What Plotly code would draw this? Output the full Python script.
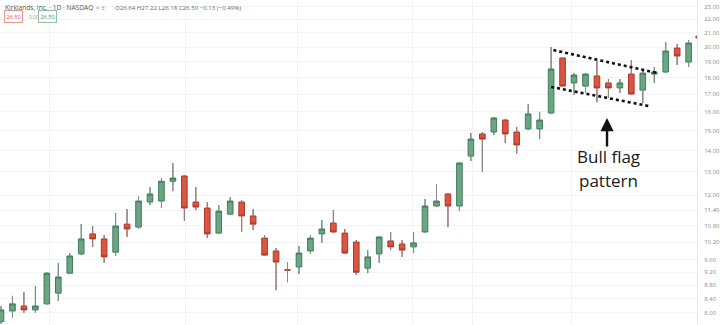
import plotly.graph_objects as go
import math

# ---- data ----
opens  = [7.76, 8.05, 8.19, 8.08, 8.25, 8.56, 9.17, 9.80, 10.50, 10.32,
          9.86, 10.86, 10.75, 11.72, 11.76, 12.59, 12.82, 11.72, 11.48, 10.53,
          11.24, 11.72, 11.17, 10.35, 9.90, 9.28, 9.37, 9.90, 10.50, 10.90,
          10.53, 10.21, 9.33, 9.80, 10.25, 10.14, 10.04, 10.57, 11.56, 12.05,
          11.56, 13.73, 14.82, 14.92, 15.55, 14.92, 15.08, 15.08, 15.93, 19.26,
          17.67, 17.48, 18.10, 17.67, 17.37, 18.22, 17.24, 18.22, 18.35, 19.93,
          18.99]
highs  = [8.19, 8.48, 8.59, 8.77, 9.20, 9.50, 9.83, 10.86, 10.79, 10.46,
          11.28, 11.44, 11.96, 12.34, 12.73, 13.41, 12.86, 12.34, 11.72, 11.60,
          11.92, 11.80, 11.44, 10.46, 10.00, 9.53, 10.07, 10.46, 11.01, 11.40,
          10.68, 10.28, 9.93, 10.42, 10.57, 10.28, 10.57, 11.84, 12.47, 12.09,
          13.43, 14.87, 14.92, 15.71, 15.61, 15.18, 16.43, 15.99, 20.00, 19.28,
          18.28, 18.28, 19.06, 17.91, 17.91, 19.12, 18.54, 18.67, 20.35, 20.21,
          20.49]
lows   = [7.70, 7.86, 8.00, 8.00, 8.23, 8.33, 9.14, 9.76, 10.04, 9.50,
          9.73, 10.39, 10.68, 11.60, 11.48, 12.17, 10.98, 11.40, 10.35, 10.51,
          11.22, 10.57, 10.64, 9.74, 8.65, 8.89, 9.14, 9.80, 10.18, 10.53,
          9.80, 9.11, 9.17, 9.50, 9.93, 9.70, 9.83, 10.55, 11.52, 10.75,
          11.36, 13.50, 13.00, 14.76, 14.36, 13.85, 15.02, 14.56, 15.88, 17.46,
          16.95, 17.07, 16.54, 16.78, 17.07, 16.95, 16.49, 17.67, 18.28, 18.80,
          18.67]
closes = [8.08, 8.25, 8.08, 8.19, 9.17, 9.05, 9.73, 10.32, 10.32, 9.70,
          10.79, 10.68, 11.76, 12.05, 12.59, 12.73, 11.48, 11.52, 10.50, 11.36,
          11.76, 11.17, 10.86, 9.76, 9.53, 9.27, 9.83, 10.35, 10.68, 10.57,
          9.83, 9.20, 9.70, 10.39, 10.04, 9.93, 10.18, 11.56, 11.76, 11.56,
          13.41, 14.56, 14.56, 15.66, 14.82, 14.27, 15.88, 15.55, 18.54, 17.48,
          18.16, 18.22, 17.37, 17.37, 17.67, 17.01, 18.28, 18.35, 19.73, 19.39,
          20.28]
bars = list(range(len(opens)))

tick_vals = [23, 22, 21, 20, 19, 18, 17, 16, 15, 14, 13, 12,
             11.4, 10.8, 10.2, 9.6, 9.2, 8.8, 8.4, 8.0]
tick_text = ["%.2f" % v for v in tick_vals]

flag_upper_x = [48.2, 57.3]
flag_upper_y = [19.79, 18.28]
flag_lower_x = [48.0, 56.5]
flag_lower_y = [17.43, 16.32]

arrow_x = 52.88
arrow_head, arrow_tail = 15.66, 14.12
label_x = 53.05
label_lines = ["Bull flag", "pattern"]
label_prices = [13.69, 12.64]

last_price = 20.70
vgrid = [4.2, 16.1, 25.9, 35.9, 41.1, 49.8]

UP_FILL, UP_LINE = "#6ba583", "#3f7d5c"
DN_FILL, DN_LINE = "#dd5542", "#a8392b"
WICK = "#8c8c8c"

fig = go.Figure()
fig.add_trace(go.Candlestick(
    x=bars, open=opens, high=highs, low=lows, close=closes,
    increasing=dict(fillcolor=UP_FILL, line=dict(color=UP_LINE, width=1)),
    decreasing=dict(fillcolor=DN_FILL, line=dict(color=DN_LINE, width=1)),
    whiskerwidth=0, hoverinfo="skip", showlegend=False))

# gray wicks drawn over the candle wicks (outside the body)
wx, wy = [], []
for i in bars:
    top = max(opens[i], closes[i]); bot = min(opens[i], closes[i])
    wx += [i, i, None, i, i, None]
    wy += [highs[i], top, None, bot, lows[i], None]
fig.add_trace(go.Scatter(x=wx, y=wy, mode="lines", line=dict(color=WICK, width=1),
                         hoverinfo="skip", showlegend=False))

for xs, ys in [(flag_upper_x, flag_upper_y), (flag_lower_x, flag_lower_y)]:
    fig.add_trace(go.Scatter(x=xs, y=ys, mode="lines",
                             line=dict(color="#111111", width=2.6, dash="3px,3px"),
                             hoverinfo="skip", showlegend=False))

fig.add_trace(go.Scatter(x=[len(bars) - 0.3], y=[last_price], mode="markers",
                         marker=dict(color="#c0392b", size=3), cliponaxis=False,
                         hoverinfo="skip", showlegend=False))

W, H = 720, 325
PW = 697
fig.update_layout(
    width=W, height=H, margin=dict(l=0, r=W - PW, t=0, b=0),
    paper_bgcolor="white", plot_bgcolor="white",
    font=dict(family="Open Sans, sans-serif"),
    xaxis=dict(range=[-0.087, 60.73], rangeslider=dict(visible=False),
               tickvals=vgrid, showticklabels=False, showgrid=True,
               gridcolor="#f2f2f2", gridwidth=1, zeroline=False, showline=False),
    yaxis=dict(type="log", side="right",
               range=[math.log10(7.67), math.log10(23.52)],
               tickvals=tick_vals, ticktext=tick_text,
               tickfont=dict(size=6, color="#8a8a8a"),
               ticks="outside", ticklen=5, tickcolor="white",
               showgrid=True, gridcolor="#f3f3f3", gridwidth=1,
               showline=True, linecolor="#e8e8e8", linewidth=1,
               zeroline=False),
    hovermode=False,
)

def px(xp):
    return xp / PW
def py(yp):
    return 1 - yp / H

ann = []
ann.append(dict(text="Kirklands, Inc. · 1D · NASDAQ", x=px(3), y=py(8),
                xanchor="left", yanchor="middle", font=dict(size=6.6, color="#555")))
ann.append(dict(text="= ±", x=px(94), y=py(8), xanchor="left", yanchor="middle",
                font=dict(size=6.4, color="#e07a6e")))
ann.append(dict(text="O26.64 H27.22 L26.18 C26.50 −0.13 (−0.49%)", x=px(113), y=py(8),
                xanchor="left", yanchor="middle", font=dict(size=6.1, color="#666")))
ann.append(dict(text="26.50", x=px(4), y=py(17), xanchor="left", yanchor="middle",
                font=dict(size=5.6, color="#d9534f"), bordercolor="#e89a90",
                borderwidth=1, borderpad=1.5, bgcolor="white"))
ann.append(dict(text="0.00", x=px(27), y=py(17), xanchor="left", yanchor="middle",
                font=dict(size=4.8, color="#999")))
ann.append(dict(text="26.50", x=px(38), y=py(17), xanchor="left", yanchor="middle",
                font=dict(size=5.6, color="#4a8a68"), bordercolor="#8fbfa5",
                borderwidth=1, borderpad=1.5, bgcolor="white"))
for a in ann:
    a.update(xref="paper", yref="paper", showarrow=False)

# arrow and label (log axis: annotation coordinates are log10 values)
ann.append(dict(x=arrow_x, y=math.log10(arrow_head), ax=arrow_x, ay=math.log10(arrow_tail),
                xref="x", yref="y", axref="x", ayref="y", text="", showarrow=True,
                arrowhead=2, arrowsize=1.1, arrowwidth=2.4, arrowcolor="#111"))
for t, p in zip(label_lines, label_prices):
    ann.append(dict(x=label_x, y=math.log10(p), xref="x", yref="y", text=t,
                    showarrow=False, font=dict(size=17, color="#1a1a1a")))

fig.update_layout(annotations=ann)
fig.write_html("out.html", config={"displayModeBar": False, "staticPlot": True})
